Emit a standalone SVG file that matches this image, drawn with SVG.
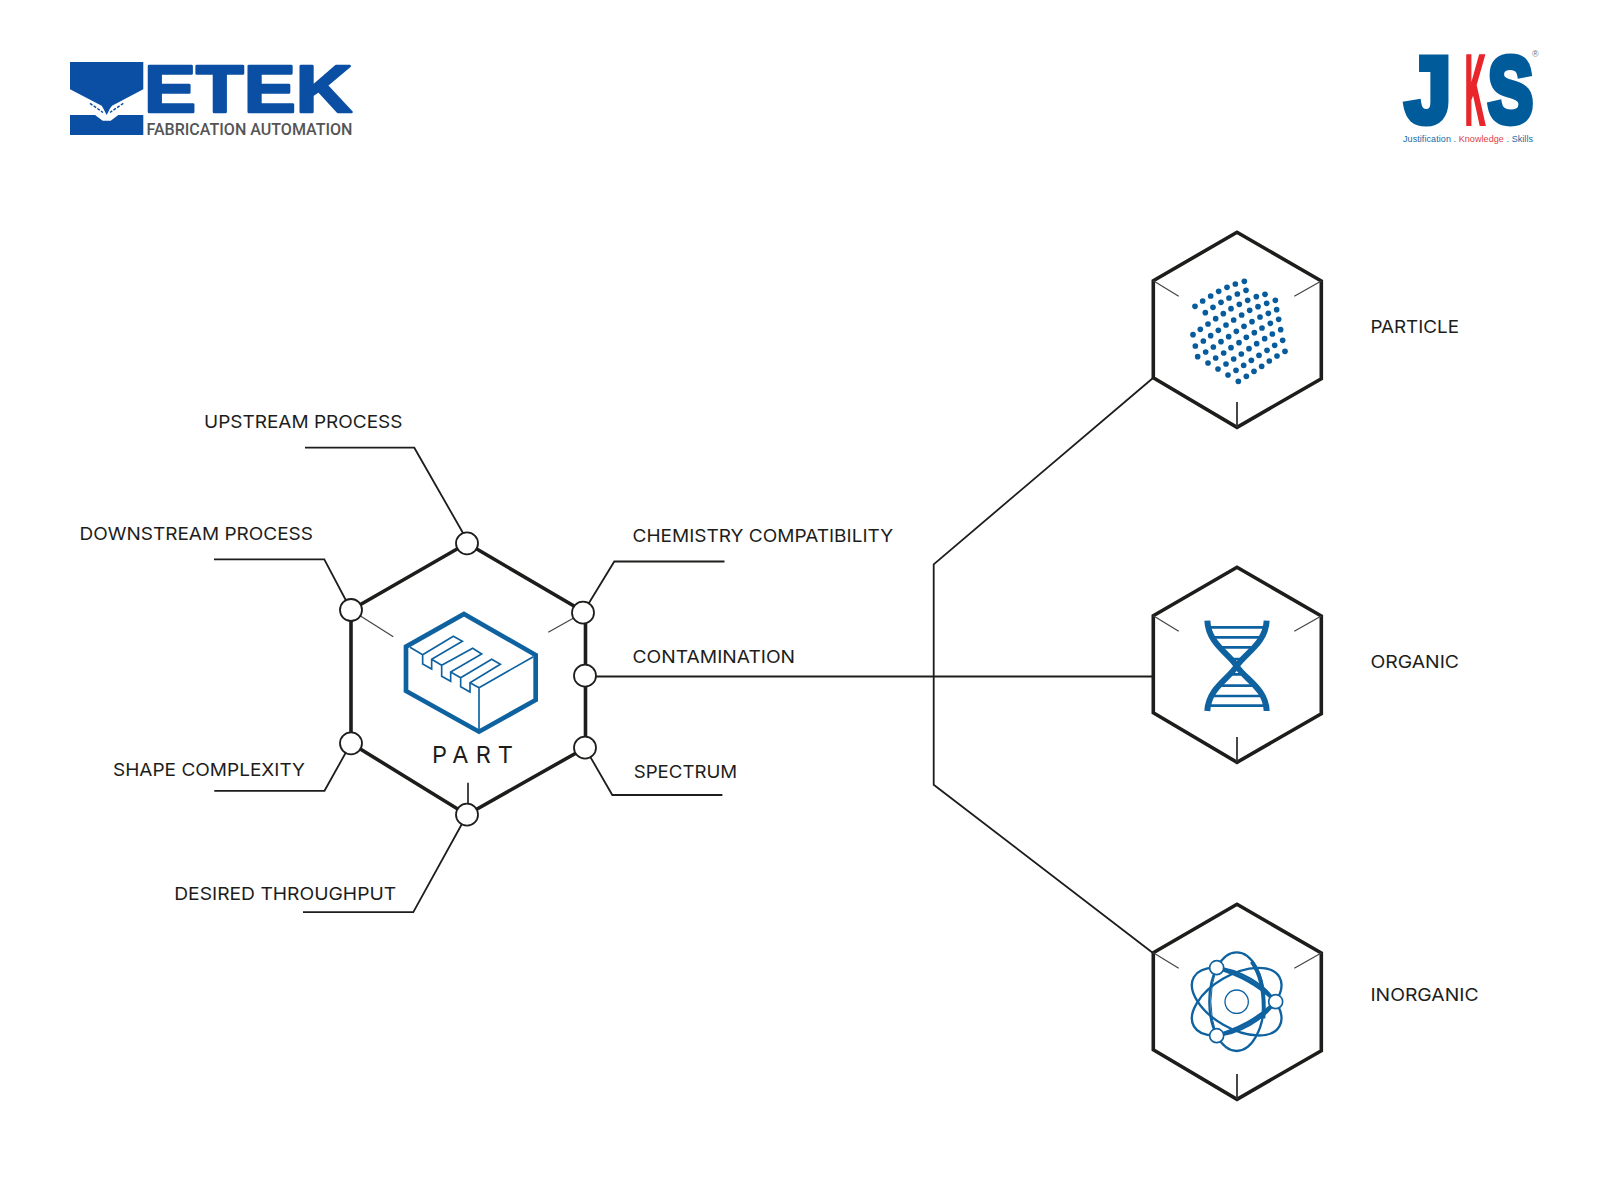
<svg xmlns="http://www.w3.org/2000/svg" width="1600" height="1199" viewBox="0 0 1600 1199">
<style>
.lbl{font-family:"Inter","Liberation Sans",sans-serif;font-size:17.5px;fill:#1d1d1b;font-weight:400}
.lead{fill:none;stroke:#1d1d1b;stroke-width:1.8}
.hex{fill:#fff;stroke:#1d1d1b;stroke-width:3.6;stroke-linejoin:miter}
.tick{fill:none;stroke:#444;stroke-width:1.2}
.tickb{fill:none;stroke:#333;stroke-width:1.8}
.pin{fill:#fff;stroke:#1d1d1b;stroke-width:1.8}
.bl{fill:none;stroke:#0f62a0;stroke-linejoin:miter}
.dot{fill:#055b9b}
.dot circle{r:8.5px}
</style>
<defs>
<g id="hx">
<polygon class="hex" points="1237,232.3 1321.3,281 1321.3,378.7 1237,427.3 1153.3,377.7 1153.3,280.7"/>
<path class="tick" d="M1153.3 280.7L1178.7 296.3M1321.3 281L1294.3 296.3"/>
<path class="tickb" d="M1237 427.3V402"/>
</g>
</defs>
<rect width="1600" height="1199" fill="#fff"/>

<g id="logo-etek">
<polygon fill="#0a4fa3" points="70,62 143.3,62 143.3,89.3 112,105.7 110,108.5 106.7,115 103.3,108.5 101.7,105.7 70,89.3"/>
<polygon fill="#0a4fa3" points="70,115 95,115 102.7,120.7 110.7,120.7 118.3,115 143.3,115 143.3,135 70,135"/>
<path d="M90 103.3L103 112.5M123.3 103.3L110 112.5" stroke="#0a4fa3" stroke-width="1.5" stroke-dasharray="3 1.5" fill="none"/>
<text x="144" y="112" font-family="Liberation Sans,sans-serif" font-weight="700" font-size="66" fill="#0a4fa3" stroke="#0a4fa3" stroke-width="2.5" stroke-linejoin="round" textLength="208" lengthAdjust="spacingAndGlyphs">ETEK</text>
<text x="146.5" y="135" font-family="Roboto,Liberation Sans,sans-serif" font-weight="500" font-size="16" fill="#555" textLength="206" lengthAdjust="spacingAndGlyphs">FABRICATION AUTOMATION</text>
</g>

<g id="logo-jks" font-family="Liberation Sans,sans-serif" font-weight="700">
<text x="1405" y="121.5" font-size="93.5" fill="#005b9a" stroke="#005b9a" stroke-width="7" textLength="46" lengthAdjust="spacingAndGlyphs">J</text>
<text x="1465" y="123.5" font-size="98" fill="#e8262b" stroke="#e8262b" stroke-width="4" textLength="20" lengthAdjust="spacingAndGlyphs">K</text>
<text x="1488" y="121.5" font-size="93.5" fill="#005b9a" stroke="#005b9a" stroke-width="7" textLength="45" lengthAdjust="spacingAndGlyphs">S</text>
<text x="1403" y="141.5" font-size="9" font-weight="400" fill="#1a6aa5" textLength="130" lengthAdjust="spacing">Justification . <tspan fill="#e0403f">Knowledge</tspan> . Skills</text>
<text x="1532" y="57" font-size="9" font-weight="400" fill="#777">®</text>
</g>

<g id="connectors">
<path class="lead" d="M305 447.7H414.3L467 540"/>
<path class="lead" d="M214 559.3H324.3L351 610"/>
<path class="lead" d="M724.5 561.5H614.3L583 612.7"/>
<path class="lead" d="M585 676.5H1153.3"/>
<path class="lead" d="M722.4 795H612.3L585 747.7"/>
<path class="lead" d="M214.3 790.8H324.5L351 743.3"/>
<path class="lead" d="M303 912.2H413.3L467 814.7"/>
<path class="lead" d="M1153.3 377.7L933.7 564.3V784.7L1153.3 953.3"/>
</g>

<g id="node-part">
<polygon class="hex" points="467,543.3 585.5,612.7 585.5,747.7 467,814.7 351,743.3 351,610"/>
<path class="tick" d="M351 610L393.3 636.7M583 612.7L548.3 632.3"/>
<path class="tickb" d="M468 814.7V782.7"/>
<g transform="translate(330 520) scale(.33333)">
<polygon class="bl" stroke-width="14" points="402,282 617,405 617,540 447,635 228,513 228,380"/>
<path class="bl" stroke-width="5" d="M447 635V503L610 410M240 382L278 404V432L305 447V418L397 364L370 349L278 404M305 418L335 436V469L362 484V456L455 402L428 385L335 436M362 456L392 473V500L420 516V488L511 433L485 418L392 473M420 488L447 503"/>
</g>
<text x="432" y="762.7" font-family="Inter,Liberation Sans,sans-serif" font-size="23.5" fill="#1d1d1b" textLength="81" lengthAdjust="spacing">PART</text>
<circle class="pin" cx="467" cy="543.3" r="11"/>
<circle class="pin" cx="583" cy="612.7" r="11"/>
<circle class="pin" cx="585" cy="675.7" r="11"/>
<circle class="pin" cx="585" cy="747.7" r="11"/>
<circle class="pin" cx="467" cy="814.7" r="11"/>
<circle class="pin" cx="351" cy="743.3" r="11"/>
<circle class="pin" cx="351" cy="610" r="11"/>
</g>

<g id="label-upstream"><text class="lbl" x="204" y="428.4" textLength="198.5" lengthAdjust="spacingAndGlyphs">UPSTREAM PROCESS</text></g>
<g id="label-downstream"><text class="lbl" x="79.5" y="539.5" textLength="233.5" lengthAdjust="spacingAndGlyphs">DOWNSTREAM PROCESS</text></g>
<g id="label-chemistry"><text class="lbl" x="632.6" y="542" textLength="260.5" lengthAdjust="spacingAndGlyphs">CHEMISTRY COMPATIBILITY</text></g>
<g id="label-contamination"><text class="lbl" x="632.6" y="662.5" textLength="162.5" lengthAdjust="spacingAndGlyphs">CONTAMINATION</text></g>
<g id="label-spectrum"><text class="lbl" x="633.7" y="778" textLength="103.5" lengthAdjust="spacingAndGlyphs">SPECTRUM</text></g>
<g id="label-shape"><text class="lbl" x="113" y="776" textLength="192" lengthAdjust="spacingAndGlyphs">SHAPE COMPLEXITY</text></g>
<g id="label-desired"><text class="lbl" x="174.2" y="899.5" textLength="222" lengthAdjust="spacingAndGlyphs">DESIRED THROUGHPUT</text></g>

<g id="node-particle">
<use href="#hx"/>
<g class="dot" transform="translate(1140 220) scale(.33333)">
<circle cx="165" cy="259" r="9"/><circle cx="188" cy="243" r="9"/><circle cx="212" cy="228" r="9"/><circle cx="236" cy="214" r="9"/><circle cx="261" cy="202" r="9"/><circle cx="286" cy="192" r="9"/><circle cx="313" cy="184" r="9"/>
<circle cx="196" cy="278" r="9"/><circle cx="219" cy="262" r="9"/><circle cx="243" cy="247" r="9"/><circle cx="267" cy="234" r="9"/><circle cx="292" cy="222" r="9"/><circle cx="318" cy="211" r="9"/>
<circle cx="159" cy="344" r="9"/><circle cx="181" cy="328" r="9"/><circle cx="204" cy="312" r="9"/><circle cx="227" cy="296" r="9"/><circle cx="250" cy="281" r="9"/><circle cx="273" cy="266" r="9"/><circle cx="298" cy="253" r="9"/><circle cx="323" cy="241" r="9"/><circle cx="349" cy="230" r="9"/><circle cx="375" cy="223" r="9"/>
<circle cx="166" cy="378" r="9"/><circle cx="190" cy="363" r="9"/><circle cx="212" cy="347" r="9"/><circle cx="235" cy="331" r="9"/><circle cx="258" cy="315" r="9"/><circle cx="281" cy="300" r="9"/><circle cx="305" cy="285" r="9"/><circle cx="329" cy="271" r="9"/><circle cx="354" cy="260" r="9"/><circle cx="380" cy="250" r="9"/><circle cx="406" cy="241" r="9"/>
<circle cx="173" cy="410" r="9"/><circle cx="197" cy="396" r="9"/><circle cx="220" cy="381" r="9"/><circle cx="243" cy="365" r="9"/><circle cx="266" cy="350" r="9"/><circle cx="289" cy="334" r="9"/><circle cx="312" cy="319" r="9"/><circle cx="336" cy="305" r="9"/><circle cx="360" cy="291" r="9"/><circle cx="385" cy="280" r="9"/><circle cx="410" cy="269" r="9"/>
<circle cx="204" cy="429" r="9"/><circle cx="227" cy="414" r="9"/><circle cx="251" cy="399" r="9"/><circle cx="273" cy="383" r="9"/><circle cx="297" cy="368" r="9"/><circle cx="319" cy="352" r="9"/><circle cx="343" cy="338" r="9"/><circle cx="366" cy="324" r="9"/><circle cx="391" cy="310" r="9"/><circle cx="416" cy="298" r="9"/>
<circle cx="234" cy="447" r="9"/><circle cx="258" cy="432" r="9"/><circle cx="281" cy="417" r="9"/><circle cx="304" cy="402" r="9"/><circle cx="327" cy="386" r="9"/><circle cx="350" cy="371" r="9"/><circle cx="374" cy="356" r="9"/><circle cx="397" cy="342" r="9"/><circle cx="422" cy="329" r="9"/>
<circle cx="264" cy="465" r="9"/><circle cx="288" cy="451" r="9"/><circle cx="311" cy="436" r="9"/><circle cx="334" cy="421" r="9"/><circle cx="357" cy="406" r="9"/><circle cx="381" cy="391" r="9"/><circle cx="404" cy="376" r="9"/><circle cx="428" cy="361" r="9"/>
<circle cx="295" cy="484" r="9"/><circle cx="319" cy="469" r="9"/><circle cx="342" cy="454" r="9"/><circle cx="365" cy="439" r="9"/><circle cx="388" cy="423" r="9"/><circle cx="411" cy="408" r="9"/><circle cx="435" cy="394" r="9"/>
</g>
<text class="lbl" x="1370.4" y="333.1" textLength="88.6" lengthAdjust="spacingAndGlyphs">PARTICLE</text>
</g>

<g id="node-organic">
<use href="#hx" transform="translate(0 335)"/>
<g transform="translate(1140 560) scale(.33333)" fill="none" stroke="#0f62a0">
<path stroke-width="18" d="M202 182C205 250 265 280 290 318C315 358 378 385 380 453M380 182C377 250 315 280 290 318C265 358 205 385 202 453"/>
<path stroke-width="8" d="M205 202H377M215 232H367M235 262H347M268 297H312M268 343H312M235 377H347M215 408H367M205 437H377"/>
</g>
<text class="lbl" x="1370.4" y="668.4" textLength="88.6" lengthAdjust="spacingAndGlyphs">ORGANIC</text>
</g>

<g id="node-inorganic">
<use href="#hx" transform="translate(0 672)"/>
<g transform="translate(1140 895) scale(.33333)" fill="none" stroke="#0f62a0">
<circle cx="290" cy="320" r="35" stroke-width="4"/>
<ellipse cx="290" cy="320" rx="148" ry="80" stroke-width="7" transform="rotate(30 290 320)"/>
<ellipse cx="290" cy="320" rx="148" ry="80" stroke-width="7" transform="rotate(-30 290 320)"/>
<ellipse cx="290" cy="320" rx="82" ry="148" stroke-width="7"/>
<path stroke-width="3" d="M230 218Q195 320 230 422"/>
<path stroke-width="11" d="M230 218Q340 250 407 320Q340 390 230 422"/>
<path stroke-width="12" d="M335 200Q378 260 370 370"/>
<circle cx="230" cy="218" r="21" fill="#fff" stroke-width="5"/>
<circle cx="230" cy="422" r="21" fill="#fff" stroke-width="5"/>
<circle cx="407" cy="320" r="21" fill="#fff" stroke-width="5"/>
</g>
<text class="lbl" x="1370.4" y="1001" textLength="108.2" lengthAdjust="spacingAndGlyphs">INORGANIC</text>
</g>
</svg>
